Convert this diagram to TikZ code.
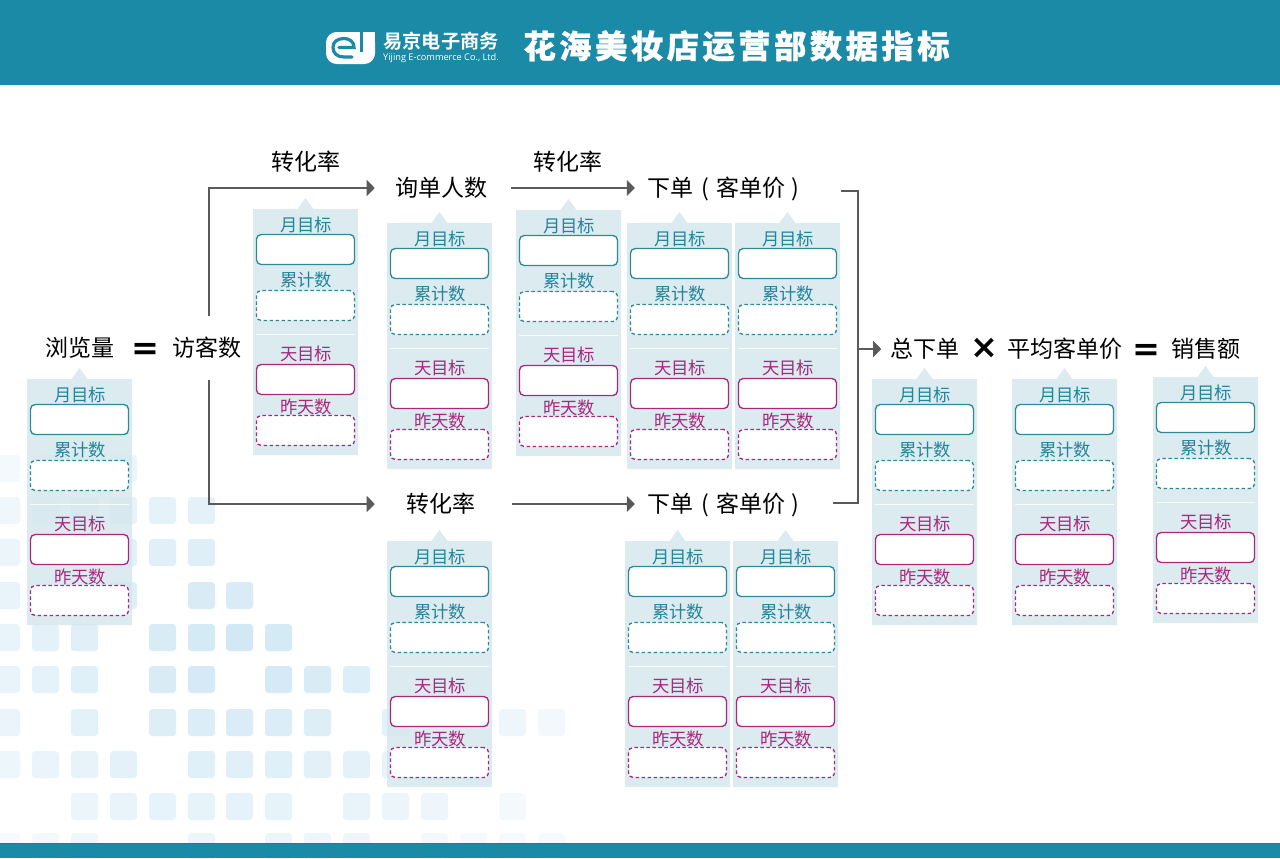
\documentclass[tikz,border=0pt]{standalone}
\usepackage{fontspec}
\usetikzlibrary{arrows.meta}
\setmainfont{Noto Sans CJK SC}
\newfontfamily\titlefont[LetterSpace=10.5,FakeBold=0.6]{Noto Sans CJK SC Black}
\newfontfamily\logofont{Noto Sans CJK SC Bold}
\newfontfamily\opfont{DejaVu Sans Bold}
\newfontfamily\enfont{Open Sans}
\definecolor{bar}{HTML}{1B8AA6}
\definecolor{baredge}{HTML}{17808F}
\definecolor{cardbg}{HTML}{D4E6ED}
\definecolor{tealc}{HTML}{2F8898}
\definecolor{tealt}{HTML}{23849A}
\definecolor{magc}{HTML}{A8287C}
\definecolor{conn}{HTML}{5A5A5A}
\definecolor{sq}{HTML}{BEDFF1}
\tikzset{
  x=0.75pt,y=-0.75pt,
  lbl/.style={inner sep=0pt,font=\fontsize{17.25pt}{20pt}\selectfont,text=black,text height=15.2pt,text depth=2.07pt},
  opsign/.style={inner sep=0pt,font=\opfont\fontsize{25pt}{28pt}\selectfont,text=black},
  cardtxt/.style={inner sep=0pt,font=\fontsize{13pt}{15pt}\selectfont},
  boxbase/.style={minimum width=73.5pt,minimum height=22.5pt,inner sep=0pt,rounded corners=3.5pt,fill=white,line width=1pt},
  tealbox/.style={boxbase,draw=tealc},
  tealdash/.style={boxbase,draw=tealc,dash pattern=on 2.6pt off 1.9pt},
  magbox/.style={boxbase,draw=magc},
  magdash/.style={boxbase,draw=magc,dash pattern=on 2.6pt off 1.9pt},
  connline/.style={draw=conn,line width=0.85pt},
  connarrow/.style={connline,-{Triangle[length=6pt,width=12pt,fill=conn]}},
}
\newcommand{\metriccard}[3]{%
  \begin{scope}[shift={(#2,#3)}]
    \fill[cardbg,fill opacity=0.8] (0,0) -- (44.5,0) -- (52.5,-11) -- (60.5,0) -- (105,0) -- (105,246) -- (0,246) -- cycle;
    \draw[white,line width=0.7pt,opacity=0.8] (3,125) -- (102,125);
    \node[cardtxt,text=tealt] (#1-a) at (53,16) {月目标};
    \node[tealbox] (#1-b) at (52.5,40.5) {};
    \node[cardtxt,text=tealt] (#1-c) at (53,71) {累计数};
    \node[tealdash] (#1-d) at (52.5,96.5) {};
    \node[cardtxt,text=magc] (#1-e) at (53,145) {天目标};
    \node[magbox] (#1-f) at (52.5,170.5) {};
    \node[cardtxt,text=magc] (#1-g) at (53,198) {昨天数};
    \node[magdash] (#1-h) at (52.5,221.5) {};
  \end{scope}%
}
\begin{document}
\begin{tikzpicture}
\useasboundingbox (0,0) rectangle (1280,858);
\fill[white] (0,0) rectangle (1280,858);
% background squares
\foreach \yy/\cols in {
  455/{-7,32,71,110},
  497/{-7,32,71,110,149,188},
  539/{-7,110,149,188},
  582/{-7,110,188,226},
  624/{-7,32,71,149,188,226,265},
  666/{-7,32,71,149,188,265,304,343},
  709/{-7,71,149,188,226,265,304,382,499,538},
  751/{-7,32,71,110,188,226,265,304,343,382},
  793/{71,110,149,188,226,265,343,382,421,499},
  833/{-7,32,71,188,265,304,343,421,460,499,538}}{
  \foreach \xx in \cols {
    \pgfmathsetmacro{\tt}{sqrt(((\xx+13-240)/300)^2+((\yy+13-650)/220)^2)}
    \pgfmathsetmacro{\oo}{max(0.14,0.72-0.48*\tt)}
    \fill[sq,opacity=\oo,rounded corners=2.5pt] (\xx,\yy) rectangle ++(27,27);
  }
}
% bars
\fill[bar] (0,0) rectangle (1280,85);
\fill[bar] (0,843) rectangle (1280,858);
\fill[baredge] (0,843) rectangle (1280,844);
% logo
\fill[white,rounded corners=8pt] (326,32) rectangle (375,64);
\fill[bar] (359.5,31) rectangle (363,52);
\fill[white] (363,32) rectangle (375,52);
\draw[bar,line width=2.4pt,line cap=round] (339,47.5) -- (354,47.5) .. controls (354,42) and (350,38.5) .. (344,38.5) .. controls (337,38.5) and (333,42) .. (333,47.5) .. controls (333,53) and (337,57) .. (344,57) -- (352,57);
\node[inner sep=0pt,text=white,font=\logofont\fontsize{14.4pt}{16pt}\selectfont] (logoa) at (441,41) {易京电子商务};
\node[inner sep=0pt,text=white,font=\enfont\fontsize{6.9pt}{8pt}\selectfont] (logob) at (441,58) {Yijing E-commerce Co., Ltd.};
\node[inner sep=0pt,text=white,font=\titlefont\fontsize{24.3pt}{28pt}\selectfont] (title) at (736.5,46) {花海美妆店运营部数据指标};
% cards
\metriccard{c1}{27}{379}
\metriccard{c2}{253}{209}
\metriccard{c3}{387}{223}
\metriccard{c4}{516}{210}
\metriccard{c5}{627}{223}
\metriccard{c6}{735}{223}
\metriccard{c7}{387}{541}
\metriccard{c8}{625}{541}
\metriccard{c9}{733}{541}
\metriccard{c10}{872}{379}
\metriccard{c11}{1012}{379}
\metriccard{c12}{1153}{377}
% labels
\node[lbl] (llv) at (80,348) {浏览量};
\node[opsign] (eqa) at (145,351) {=};
\node[lbl] (fk) at (207,348) {访客数};
\node[lbl] (zha) at (306,162) {转化率};
\node[lbl] (zhb) at (568,162) {转化率};
\node[lbl] (xd) at (441,188) {询单人数};
\node[lbl] (xa) at (723,188) {下单\kern6pt(\kern6pt客单价\kern4pt)};
\node[lbl] (zhc) at (441,504) {转化率};
\node[lbl] (xb) at (723,504) {下单\kern6pt(\kern6pt客单价\kern4pt)};
\node[lbl] (zx) at (925,349) {总下单};
\node[opsign] (mul) at (984,348) {×};
\node[lbl] (pj) at (1065,349) {平均客单价};
\node[opsign] (eqb) at (1146,352) {=};
\node[lbl] (xs) at (1206,349) {销售额};
% connectors
\coordinate (br) at (858,349);
\draw[connarrow] ([shift={(2,-20)}]fk.north) |- ([shift={(-20,0)}]xd.west);
\draw[connarrow] ([shift={(2,20)}]fk.south) |- ([shift={(-31.5,0)}]zhc.west);
\draw[connarrow] ([shift={(24,0)}]xd.east) -- ([shift={(-12,0)}]xa.west);
\draw[connarrow] ([shift={(36,0)}]zhc.east) -- ([shift={(-12,0)}]xb.west);
\draw[connline] ([shift={(42,3)}]xa.east) -| (br) |- ([shift={(34,-1)}]xb.east);
\draw[connarrow] (br) -- ([shift={(-9,0)}]zx.west);
\end{tikzpicture}
\end{document}
